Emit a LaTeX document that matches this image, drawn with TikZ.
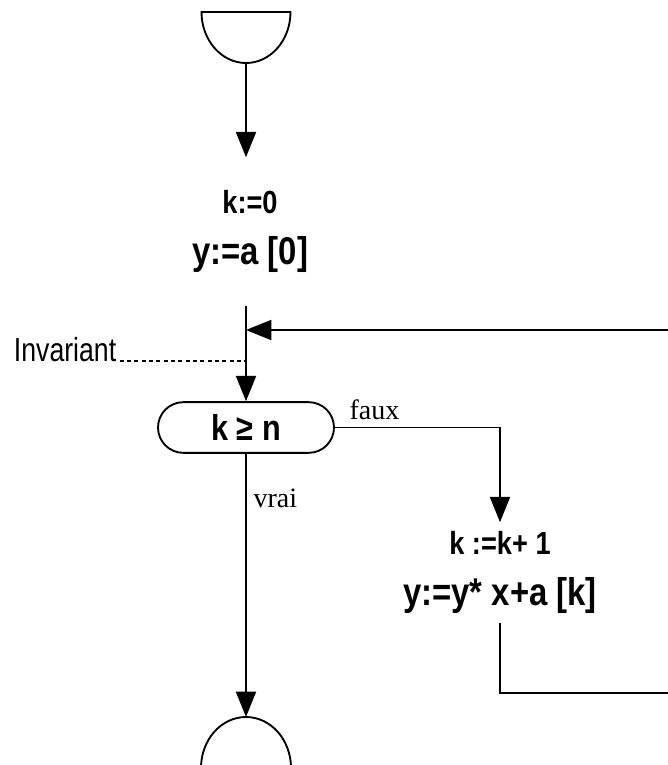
\documentclass[tikz,border=0pt]{standalone}
\usepackage{fontspec}
\setmainfont{Liberation Serif}
\newfontfamily\flowsans[FakeStretch=0.85]{Liberation Sans}
\newfontfamily\narrowsans[FakeStretch=0.8]{Liberation Sans}
\usetikzlibrary{shapes.misc, positioning, arrows.meta, calc}

\newcommand{\bigline}{\fontsize{29}{38}\selectfont}

\begin{document}
\begin{tikzpicture}[
    x=0.75pt, y=-0.75pt,
    line width=1.4pt,
    flow/.style={-{Triangle[length=19pt, width=15pt]}},
    terminal/.style={draw, fill=white},
    assign/.style={align=center, inner sep=0pt, font=\flowsans\bfseries\fontsize{24}{38}\selectfont},
    decision/.style={draw, rounded rectangle, minimum width=132pt, minimum height=38pt, inner sep=0pt, font=\flowsans\bfseries\fontsize{27}{30}\selectfont},
    branch/.style={font=\fontsize{21}{24}\selectfont, inner sep=5pt},
    note/.style={font=\narrowsans\fontsize{25}{30}\selectfont, inner sep=0pt},
    invline/.style={line width=1.2pt, dash pattern=on 3pt off 2.5pt}
]
    \useasboundingbox (0,0) rectangle (668,765);

    % ================= TERMINALS =================
    \draw[terminal] (201.5,12) -- (290.5,12) arc[start angle=0, end angle=180, x radius=44.5, y radius=51] -- cycle;
    \coordinate (start) at (246,63);
    \draw[terminal] (201,768) arc[start angle=180, end angle=360, x radius=45, y radius=51] -- cycle;
    \coordinate (stop) at (246,717);

    % ================= STEPS =================
    \node[assign, minimum height=110pt] (init) at (250,231.5) {k:=0\\{\bigline y:=a [0]}};
    \node[decision] (test) at (246,427.5) {k ≥ n};
    \node[assign, minimum height=74pt] (incr) at (500,572.5) {k :=k+ 1\\{\bigline y:=y* x+a [k]}};

    % ================= LOOP POINTS =================
    \coordinate (join) at (246,330);
    \coordinate (rt) at (690,330);
    \coordinate (rb) at (690,693);
    \coordinate (invend) at (246,361);

    % ================= CONNECTIONS =================
    \draw[flow] (start) -- (start |- init.north);
    \draw[flow] (init.south -| join) -- (test);
    \draw[flow] (test) -| (incr) node[branch, pos=0.12, above] {faux};
    \draw[flow] (test) -- (stop) node[branch, pos=0.17, right] {vrai};
    \draw[flow] (incr) |- (rb) -- (rt) -- (join);

    % ================= INVARIANT =================
    \node[note, anchor=base west] (inv) at (13,361) {Invariant};
    \draw[invline, shorten <=2pt] (inv.base east) -- (invend);

\end{tikzpicture}
\end{document}
